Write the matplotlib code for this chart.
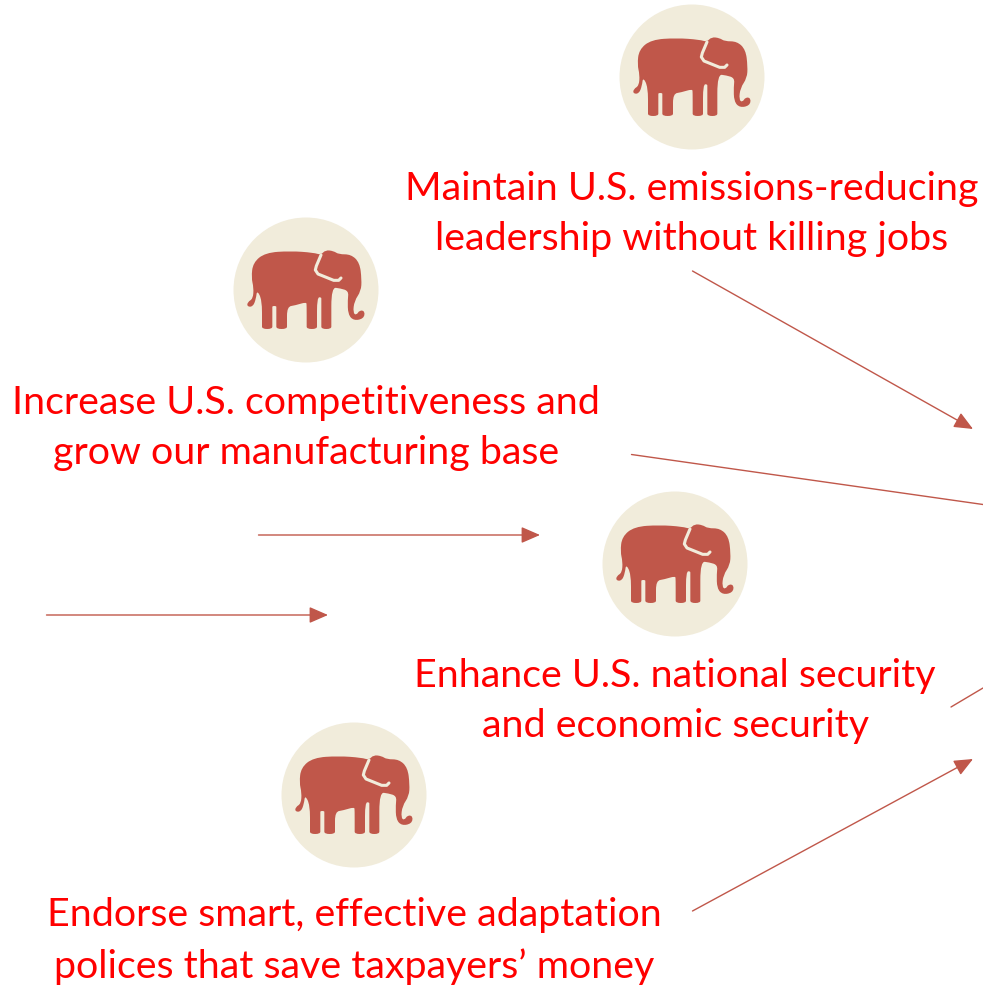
import matplotlib
matplotlib.use("Agg")
import matplotlib.pyplot as plt
from matplotlib.patches import Circle, FancyArrowPatch, PathPatch
from matplotlib.path import Path

RED_TEXT = "#ff0000"
BRICK = "#c0574a"
CREAM = "#f1ecdb"

# circle centres, in image pixels
badges = [(692, 77), (306, 290), (675, 564), (354, 795)]

labels = [
    ("Maintain U.S. emissions-reducing\nleadership without killing jobs", 692, 214),
    ("Increase U.S. competitiveness and\ngrow our manufacturing base", 306, 428),
    ("Enhance U.S. national security\nand economic security", 675, 701),
    ("Endorse smart, effective adaptation\npolices that save taxpayers\u2019 money", 354, 941),
]

# start x, start y, end x, end y, has head
arrows = [
    (692.5, 271, 973, 429, True),
    (631.5, 454.5, 983, 504.5, False),
    (258.5, 535, 540, 535, True),
    (46.5, 615, 328, 615, True),
    (951, 707, 983, 688, False),
    (692.5, 911, 973, 759, True),
]

elephant = [
    (83, 195), (88, 150), (125, 120), (200, 115), (270, 120), (292, 127),
    (305, 112), (330, 115), (345, 125), (382, 125), (408, 150), (414, 200),
    (412, 235), (392, 265), (388, 300), (398, 308), (408, 292), (424, 296),
    (420, 318), (390, 324), (373, 305), (372, 262), (375, 235), (350, 227),
    (323, 224), (323, 335), (323, 349), (293, 349), (293, 335), (293, 262), (293, 253),
    (280, 255), (280, 335), (280, 349), (249, 349), (249, 335), (249, 278), (248, 268),
    (215, 278), (190, 282), (190, 335), (190, 349), (158, 349), (158, 335), (158, 285), (158, 280),
    (146, 280), (146, 285), (146, 335), (146, 349), (115, 349), (115, 335), (115, 262),
    (100, 232), (97, 258), (88, 282), (70, 282), (72, 268), (88, 258), (90, 225),
]
ear_line = [(292, 127), (278, 160), (275, 172), (283, 184), (330, 203), (345, 203), (352, 196)]


def smooth_path(points):
    # quadratic curves between edge midpoints, the points act as controls
    verts = []
    codes = []
    n = len(points)
    first = ((points[-1][0] + points[0][0]) / 2, (points[-1][1] + points[0][1]) / 2)
    verts.append(first)
    codes.append(Path.MOVETO)
    for i in range(n):
        a = points[i]
        b = points[(i + 1) % n]
        verts.append(a)
        codes.append(Path.CURVE3)
        verts.append(((a[0] + b[0]) / 2, (a[1] + b[1]) / 2))
        codes.append(Path.CURVE3)
    return Path(verts, codes)


fig = plt.figure(figsize=(9.83, 9.88), dpi=100)
ax = fig.add_axes([0, 0, 1, 1])
ax.set_xlim(0, 983)
ax.set_ylim(988, 0)
ax.axis("off")

for cx, cy in badges:
    ax.add_patch(Circle((cx, cy), 72.5, fc=CREAM, ec="none"))
    pts = [(cx + (x - 247) / 3, cy + (y - 232) / 3) for x, y in elephant]
    ax.add_patch(PathPatch(smooth_path(pts), fc=BRICK, ec="none"))
    ear = [(cx + (x - 247) / 3, cy + (y - 232) / 3) for x, y in ear_line]
    ax.plot([p[0] for p in ear], [p[1] for p in ear], color=CREAM, lw=2.2,
            solid_capstyle="round", solid_joinstyle="round")

for text, x, y in labels:
    ax.text(x, y, text, color=RED_TEXT, family="Lato", fontsize=28.4, ha="center", va="center",
            linespacing=1.5)

for x0, y0, x1, y1, head in arrows:
    style = "-|>,head_length=11.5,head_width=5" if head else "-"
    ax.add_patch(FancyArrowPatch((x0, y0), (x1, y1), arrowstyle=style, mutation_scale=1,
                                 shrinkA=0, shrinkB=0, color=BRICK, lw=1.0))

fig.savefig("out.png", dpi=100)
